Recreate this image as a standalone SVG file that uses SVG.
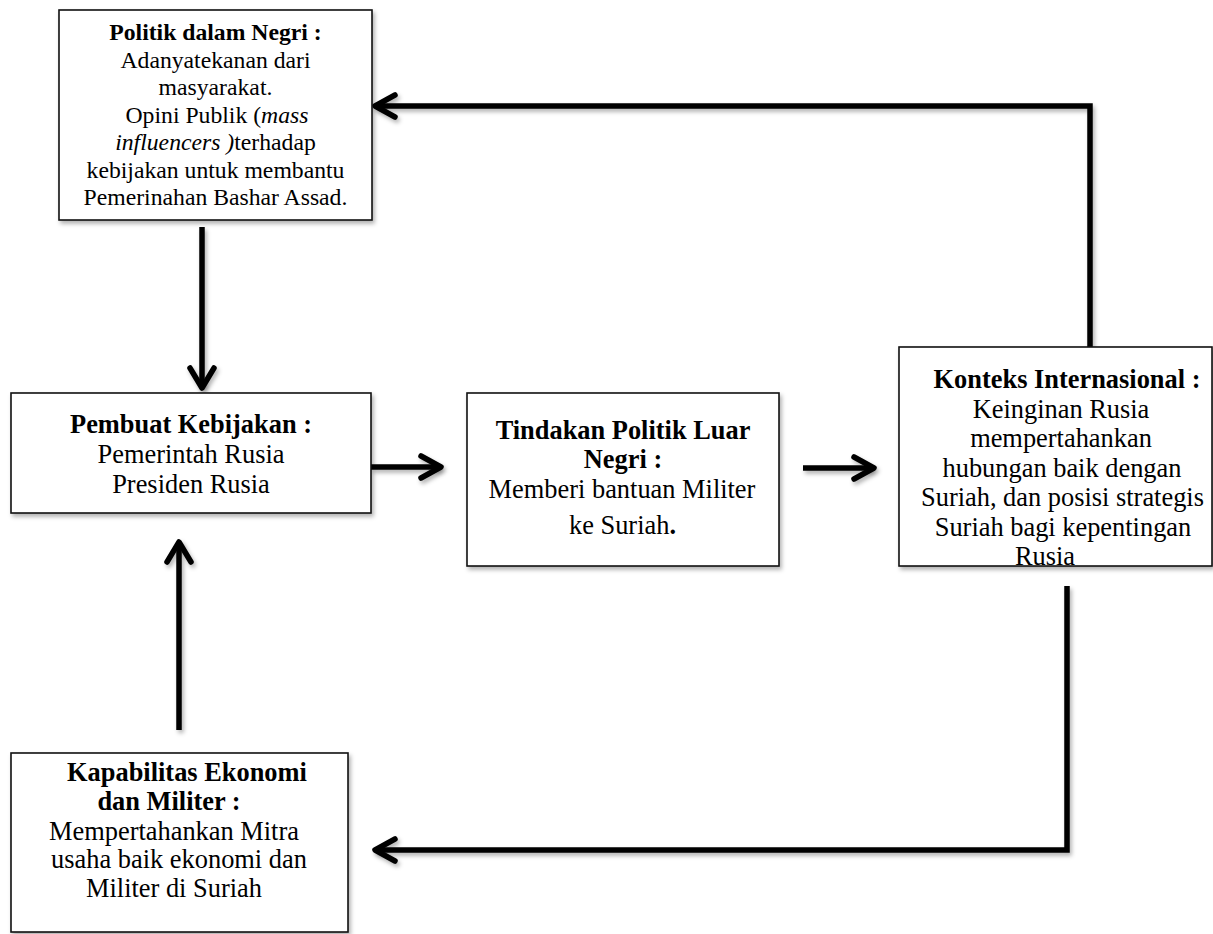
<svg xmlns="http://www.w3.org/2000/svg" width="1213" height="934" viewBox="0 0 1213 934">
<style>
.box{fill:#fff;stroke:#111;stroke-width:1.6;filter:url(#sh)}
.t{font-family:"Liberation Serif","Times New Roman",serif;fill:#000;text-anchor:middle}
.s1{font-size:23.7px}
.s2{font-size:26.4px}
.b{font-weight:bold}
.i{font-style:italic}
.ln{fill:none;stroke:#000;stroke-width:5.5;stroke-linejoin:miter;filter:url(#sh)}
.hd{fill:none;stroke:#000;stroke-width:5.5;stroke-linecap:round;stroke-linejoin:round;filter:url(#sh)}
</style>
<defs>
<filter id="sh" filterUnits="userSpaceOnUse" x="0" y="0" width="1213" height="934">
<feDropShadow dx="2" dy="3" stdDeviation="2" flood-color="#000" flood-opacity="0.3"/>
</filter>
</defs>
<g id="connectors">
<path class="ln" d="M202 227 V387"/>
<path class="hd" d="M190 368 L202 388 L214 368"/>
<path class="ln" d="M371 467 H440"/>
<path class="hd" d="M421 456 L441 467 L421 478"/>
<path class="ln" d="M803 468 H872"/>
<path class="hd" d="M854 457 L874 468 L854 479"/>
<path class="ln" d="M1090 347 V106 H376"/>
<path class="hd" d="M395 95 L375 106 L395 117"/>
<path class="ln" d="M179 730 V543"/>
<path class="hd" d="M167 562 L179 542 L191 562"/>
<path class="ln" d="M1067 586 V850 H376"/>
<path class="hd" d="M395 839 L375 850 L395 861"/>
</g>
<g id="politik">
<rect class="box" x="59" y="10" width="313" height="210"/>
<text class="t s1" x="215.5" y="40"><tspan class="b">Politik dalam Negri :</tspan></text>
<text class="t s1" x="215.5" y="67.5">Adanyatekanan dari</text>
<text class="t s1" x="215.5" y="95">masyarakat.</text>
<text class="t s1" x="217" y="122.5">Opini Publik (<tspan class="i">mass</tspan></text>
<text class="t s1" x="215.5" y="150"><tspan class="i">influencers )</tspan>terhadap</text>
<text class="t s1" x="215.5" y="177.5">kebijakan untuk membantu</text>
<text class="t s1" x="215.5" y="205">Pemerinahan Bashar Assad.</text>
</g>
<g id="pembuat">
<rect class="box" x="11" y="393" width="360" height="120"/>
<text class="t s2 b" x="191" y="433">Pembuat Kebijakan :</text>
<text class="t s2" x="191" y="463">Pemerintah Rusia</text>
<text class="t s2" x="191" y="493">Presiden Rusia</text>
</g>
<g id="tindakan">
<rect class="box" x="467" y="393" width="312" height="173"/>
<text class="t s2 b" x="623" y="439">Tindakan Politik Luar</text>
<text class="t s2 b" x="623" y="468">Negri :</text>
<text class="t s2" x="622" y="498">Memberi bantuan Militer</text>
<text class="t s2" x="622.5" y="534">ke Suriah<tspan class="b">.</tspan></text>
</g>
<g id="konteks">
<rect class="box" x="899" y="347" width="313" height="219"/>
<text class="t s2 b" x="1067" y="388">Konteks Internasional :</text>
<text class="t s2" x="1061" y="417.5">Keinginan Rusia</text>
<text class="t s2" x="1061" y="447">mempertahankan</text>
<text class="t s2" x="1062" y="476.5">hubungan baik dengan</text>
<text class="t s2" x="1062.5" y="506">Suriah, dan posisi strategis</text>
<text class="t s2" x="1063" y="535.5">Suriah bagi kepentingan</text>
<text class="t s2" x="1045" y="565">Rusia</text>
</g>
<g id="kapabilitas">
<rect class="box" x="11" y="753" width="337" height="179"/>
<text class="t s2 b" x="187" y="781">Kapabilitas Ekonomi</text>
<text class="t s2 b" x="169" y="810">dan Militer :</text>
<text class="t s2" x="174" y="840">Mempertahankan Mitra</text>
<text class="t s2" x="179" y="868">usaha baik ekonomi dan</text>
<text class="t s2" x="174" y="897">Militer di Suriah</text>
</g>
</svg>
